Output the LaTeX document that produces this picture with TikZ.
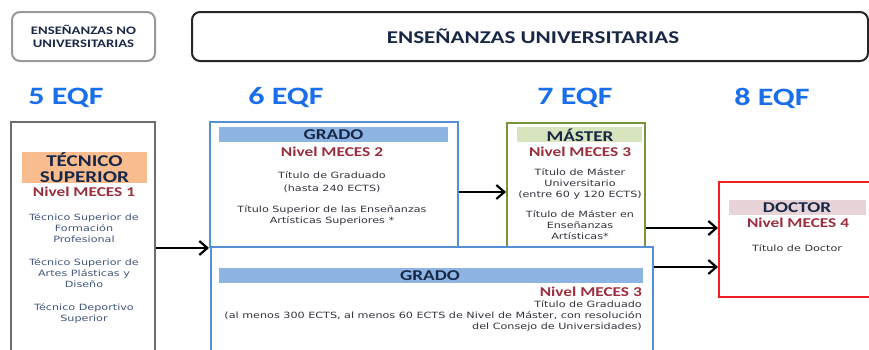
\documentclass[tikz,border=0pt]{standalone}
\usepackage{fontspec}
\setmainfont[FakeStretch=1.3]{DejaVu Sans}
\newfontfamily\headfont[FakeStretch=1.28]{Carlito}
\usetikzlibrary{arrows.meta}
\definecolor{eqfblue}{RGB}{25,110,235}
\definecolor{navy}{RGB}{25,40,70}
\definecolor{mecesred}{RGB}{155,45,60}
\definecolor{txtgray}{RGB}{50,50,60}
\definecolor{txtslate}{RGB}{65,85,125}
\definecolor{tsorange}{RGB}{249,188,142}
\definecolor{gradoline}{RGB}{85,142,213}
\definecolor{gradofill}{RGB}{141,180,226}
\definecolor{masterline}{RGB}{119,147,60}
\definecolor{masterfill}{RGB}{215,228,189}
\definecolor{doctorline}{RGB}{240,30,30}
\definecolor{doctorfill}{RGB}{232,212,216}
\begin{document}
\begin{tikzpicture}[x=1pt,y=-1pt,
    frame/.style={draw, line width=2pt, inner sep=0pt},
    bar/.style={inner sep=0pt},
    headtxt/.style={font={\headfont\bfseries\fontsize{15}{16}\selectfont}, text=navy, align=center, inner sep=0pt},
    mecestxt/.style={font={\headfont\bfseries\fontsize{13.5}{14}\selectfont}, text=mecesred, inner sep=0pt},
    eqftxt/.style={font={\headfont\bfseries\fontsize{25}{25}\selectfont}, text=eqfblue, inner sep=0pt},
    bodytxt/.style={font={\fontsize{8.6}{11}\selectfont}, text=txtgray, align=center, inner sep=0pt},
    flow/.style={-{Straight Barb[length=8pt,width=14pt,line width=2.2pt]}, line width=2.6pt}]
  \useasboundingbox (0,0) rectangle (869,349);
  \clip (0,0) rectangle (869,349);

  % top row
  \node [frame, draw=gray!80, rounded corners=8pt, minimum width=143pt, minimum height=49pt,
         headtxt, font={\headfont\bfseries\fontsize{11.5}{13}\selectfont}] (nouni) at (83.5,36.5)
        {ENSEÑANZAS NO\\UNIVERSITARIAS};
  \node [frame, draw=black!85, rounded corners=8pt, minimum width=676pt, minimum height=49pt] (uni) at (530,36.5) {};
  \node [headtxt, font={\headfont\bfseries\fontsize{18}{18}\selectfont}] (unitxt) at (533,36) {ENSEÑANZAS UNIVERSITARIAS};

  \node [eqftxt] (eqf5) at (66,98) {5 EQF};
  \node [eqftxt] (eqf6) at (286,98) {6 EQF};
  \node [eqftxt] (eqf7) at (575,98) {7 EQF};
  \node [eqftxt] (eqf8) at (772,98) {8 EQF};

  % frames
  \node [frame, draw=gray!85!black, minimum width=144pt, minimum height=236pt] (tecnico) at (83,240) {};
  \node [frame, draw=gradoline, minimum width=248pt, minimum height=125pt] (gradoA) at (334,184.5) {};
  \node [frame, draw=masterline, minimum width=138pt, minimum height=124pt] (master) at (576,185) {};
  \node [frame, draw=doctorline, minimum width=160pt, minimum height=115pt] (doctor) at (799,239.5) {};
  \node [frame, draw=gradoline, minimum width=442pt, minimum height=120pt] (gradoB) at (432,307) {};

  % header bars
  \node [bar, fill=tsorange, minimum width=125pt, minimum height=31pt] (tsbar) at (84.5,167.5) {};
  \node [bar, fill=gradofill, minimum width=229pt, minimum height=15pt] (gAbar) at (333.5,134.5) {};
  \node [bar, fill=masterfill, minimum width=125pt, minimum height=15pt] (mbar) at (579.5,134.5) {};
  \node [bar, fill=doctorfill, minimum width=137pt, minimum height=15pt] (dbar) at (797.5,207.5) {};
  \node [bar, fill=gradofill, minimum width=424pt, minimum height=15pt] (gBbar) at (431,275.5) {};

  % tecnico superior
  \node [headtxt, font={\headfont\bfseries\fontsize{16.5}{16}\selectfont}] (tshead) at (tsbar) {TÉCNICO\\SUPERIOR};
  \node [mecestxt] (ts1) at (84,192) {Nivel MECES 1};
  \node [bodytxt, text=txtslate] (tsa) at (84,228) {Técnico Superior de\\Formación\\Profesional};
  \node [bodytxt, text=txtslate] (tsb) at (84,273.5) {Técnico Superior de\\Artes Plásticas y\\Diseño};
  \node [bodytxt, text=txtslate] (tsc) at (84,313) {Técnico Deportivo\\Superior};

  % grado, nivel 2
  \node [headtxt] (gAhead) at (gAbar) {GRADO};
  \node [mecestxt] (gA2) at (332,152) {Nivel MECES 2};
  \node [bodytxt] (gAa) at (332,182.5) {Título de Graduado\\[2pt](hasta 240 ECTS)};
  \node [bodytxt] (gAb) at (332,215) {Título Superior de las Enseñanzas\\Artísticas Superiores *};

  % master
  \node [headtxt] (mhead) at (580,135) {MÁSTER};
  \node [mecestxt] (m3) at (580,152) {Nivel MECES 3};
  \node [bodytxt] (ma) at (580,183.5) {Título de Máster\\Universitario\\(entre 60 y 120 ECTS)};
  \node [bodytxt] (mb) at (580,225) {Título de Máster en\\Enseñanzas\\Artísticas*};

  % doctor
  \node [headtxt] (dhead) at (797,208) {DOCTOR};
  \node [mecestxt] (d4) at (798,223) {Nivel MECES 4};
  \node [bodytxt] (da) at (797,248) {Título de Doctor};

  % grado, nivel 3
  \node [headtxt] (gBhead) at (430,275.5) {GRADO};
  \node [mecestxt, anchor=east] (gB3) at (642,292) {Nivel MECES 3};
  \node [bodytxt, align=right, anchor=north east] (gBa) at (642,300)
        {Título de Graduado\\(al menos 300 ECTS, al menos 60 ECTS de Nivel de Máster, con resolución\\del Consejo de Universidades)};

  % connectors
  \coordinate (y1) at (0,248);
  \coordinate (y2) at (0,192);
  \coordinate (y3) at (0,228);
  \coordinate (y4) at (0,267);
  \draw [flow] (tecnico.east |- y1) -- (gradoA.south west);
  \draw [flow] (gradoA.east |- y2) -- (master.west |- y2);
  \draw [flow] (master.east |- y3) -- (doctor.west |- y3);
  \draw [flow] (gradoB.east |- y4) -- (doctor.west |- y4);
\end{tikzpicture}
\end{document}
